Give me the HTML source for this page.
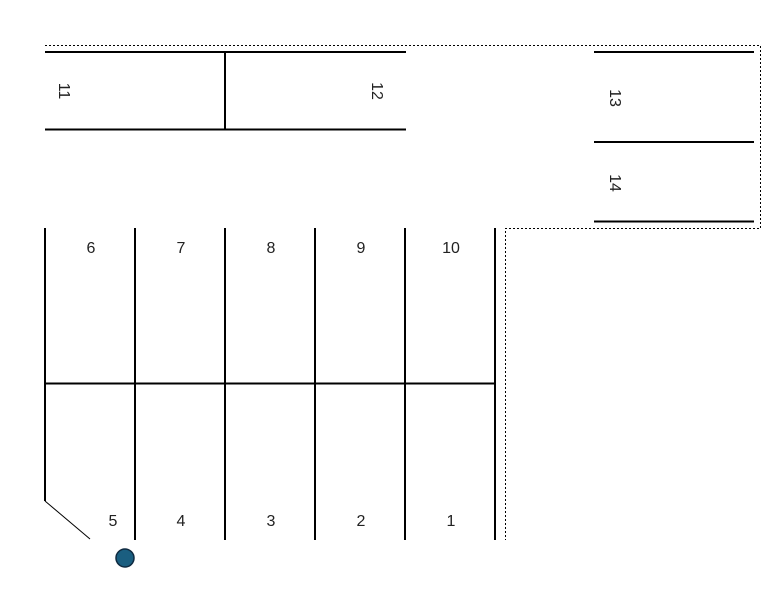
<!DOCTYPE html>
<html><head><meta charset="utf-8"><style>html,body{margin:0;padding:0;background:#fff}svg{display:block}</style></head>
<body>
<svg width="779" height="607" viewBox="0 0 779 607" xmlns="http://www.w3.org/2000/svg" font-family="Liberation Sans, sans-serif" font-size="16">
<polyline points="45,45.5 760.5,45.5 760.5,228.5 505.5,228.5 505.5,540" fill="none" stroke="#000" stroke-width="1" stroke-dasharray="2,2"/>
<g stroke="#000" stroke-width="2" fill="none">
<line x1="45" y1="52" x2="406" y2="52"/>
<line x1="45" y1="129.5" x2="406" y2="129.5"/>
<line x1="225" y1="52" x2="225" y2="129.5"/>
<line x1="594" y1="52" x2="754" y2="52"/>
<line x1="594" y1="142" x2="754" y2="142"/>
<line x1="594" y1="221.5" x2="754" y2="221.5"/>
<line x1="45" y1="228" x2="45" y2="501"/>
<line x1="135" y1="228" x2="135" y2="540"/>
<line x1="225" y1="228" x2="225" y2="540"/>
<line x1="315" y1="228" x2="315" y2="540"/>
<line x1="405" y1="228" x2="405" y2="540"/>
<line x1="495" y1="228" x2="495" y2="540"/>
<line x1="45" y1="383.5" x2="495" y2="383.5"/>
</g>
<line x1="45" y1="501" x2="90" y2="539" stroke="#000" stroke-width="1"/>
<circle cx="125" cy="558" r="9" fill="#1a5e80" stroke="#0f2a40" stroke-width="1.5"/>
<g fill="#222" text-anchor="middle">
<text x="91" y="253">6</text><text x="181" y="253">7</text><text x="271" y="253">8</text><text x="361" y="253">9</text><text x="451" y="253">10</text>
<text x="113" y="526">5</text><text x="181" y="526">4</text><text x="271" y="526">3</text><text x="361" y="526">2</text><text x="451" y="526">1</text>
<text transform="translate(59,91) rotate(90)">11</text>
<text transform="translate(372,91) rotate(90)">12</text>
<text transform="translate(610,98) rotate(90)">13</text>
<text transform="translate(610,183) rotate(90)">14</text>
</g>
</svg>
</body></html>
